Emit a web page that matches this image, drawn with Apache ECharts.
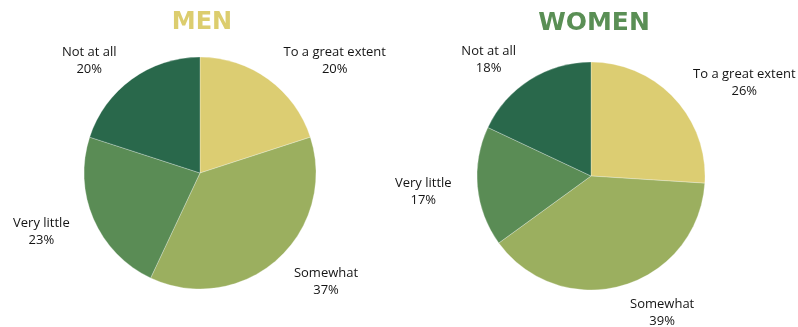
<!DOCTYPE html>
<html>
<head>
<meta charset="utf-8">
<script src="https://cdn.jsdelivr.net/npm/echarts@6/dist/echarts.min.js"></script>
<style>
  html, body { margin: 0; padding: 0; background: #ffffff; }
  #chart { width: 798px; height: 327px; }
</style>
</head>
<body>
<div id="chart"></div>
<script>
// Response categories, in clockwise order from 12 o'clock
const categories = ['To a great extent', 'Somewhat', 'Very little', 'Not at all'];
// Share of respondents (%) per group
const menValues = [20, 37, 23, 20];
const womenValues = [26, 39, 17, 18];
const groupTitles = ['MEN', 'WOMEN'];

const sliceColors = ['#DCCD72', '#9BAF5F', '#5A8C55', '#29684B'];

function toData(values) {
  return categories.map((name, i) => ({ name: name, value: values[i] }));
}

const labelStyle = {
  show: true,
  position: 'outside',
  distanceToLabelLine: 0,
  padding: [5, 0, 0, 0],
  formatter: '{t|{b}}\n{t|{c}%}',
  rich: {
    t: {
      align: 'center',
      fontFamily: '"Open Sans", sans-serif',
      fontWeight: 500,
      fontSize: 13,
      lineHeight: 17,
      color: '#141414'
    }
  }
};

function pieSeries(values, center, radius) {
  return {
    type: 'pie',
    center: center,
    radius: radius,
    startAngle: 90,
    clockwise: true,
    avoidLabelOverlap: false,
    silent: true,
    color: sliceColors,
    itemStyle: { borderColor: 'rgba(255,255,255,0.35)', borderWidth: 0.8 },
    label: labelStyle,
    labelLine: { show: false, length: 26, length2: 0 },
    emphasis: { disabled: true },
    data: toData(values)
  };
}

const chart = echarts.init(document.getElementById('chart'), null, { renderer: 'canvas' });
chart.setOption({
  backgroundColor: '#ffffff',
  animation: false,
  title: [
    {
      text: groupTitles[0], left: 202, top: 11, textAlign: 'center', padding: 0,
      textStyle: { fontFamily: '"DejaVu Sans", sans-serif', fontWeight: 'bold', fontSize: 24, color: '#DCCD6E' }
    },
    {
      text: groupTitles[1], left: 594, top: 11, textAlign: 'center', padding: 0,
      textStyle: { fontFamily: '"DejaVu Sans", sans-serif', fontWeight: 'bold', fontSize: 25, color: '#5A8F55' }
    }
  ],
  series: [
    pieSeries(menValues, [200, 173], 116),
    pieSeries(womenValues, [591, 176], 114)
  ]
});
</script>
</body>
</html>
